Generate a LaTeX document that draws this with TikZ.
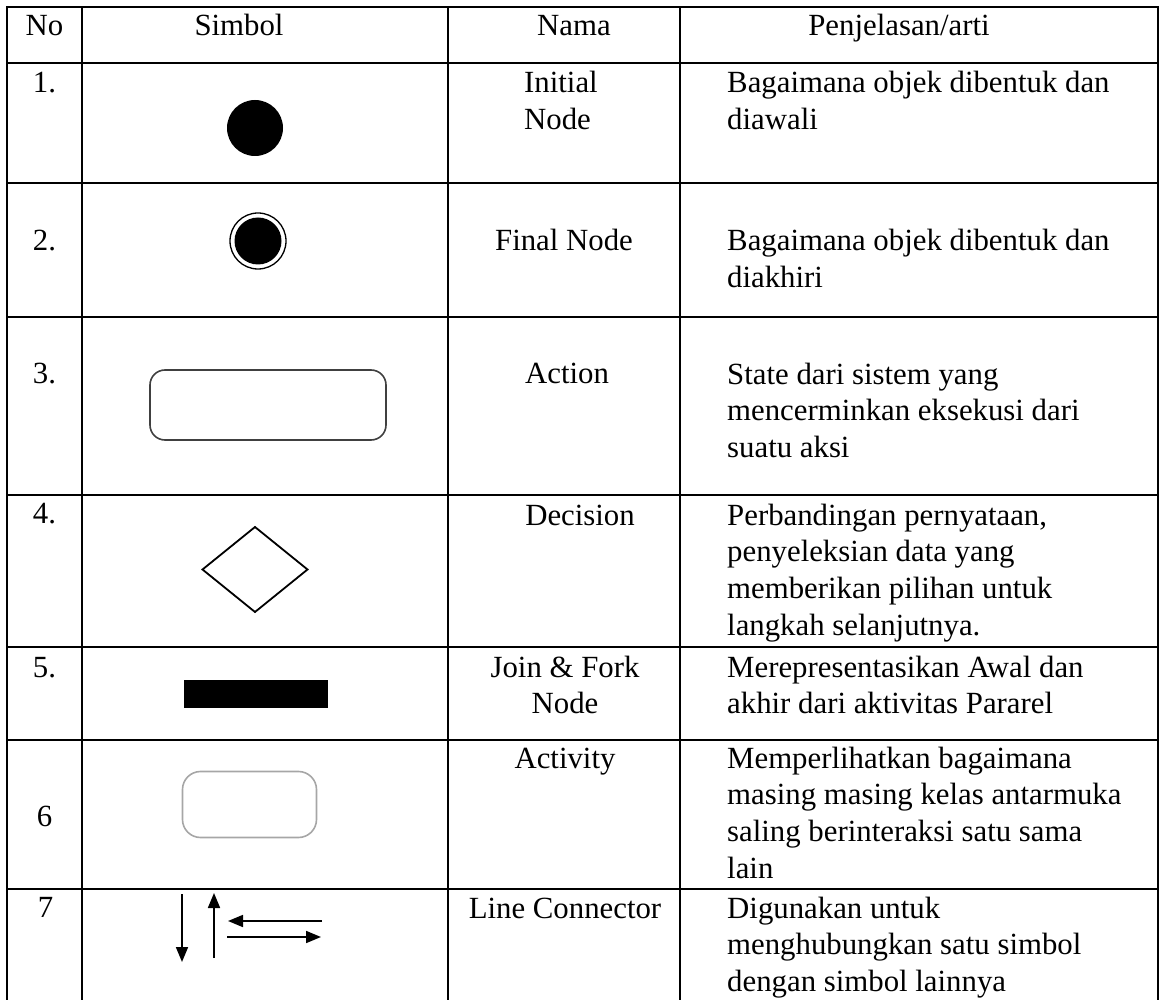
\documentclass[tikz,border=0pt]{standalone}
\usepackage{fontspec}
\setmainfont{Liberation Serif}
\usetikzlibrary{arrows.meta,shapes.geometric}
\tikzset{
  tablerule/.style={line width=2.6pt, line cap=rect},
  cell/.style={anchor=base, inner sep=0pt, font=\fontsize{30.8}{36.7}\selectfont},
  lcell/.style={cell, anchor=base west, align=left},
  symb/.style={inner sep=0pt, outer sep=0pt},
  conn/.style={line width=1.7pt, -{Triangle[length=15pt,width=12pt]}},
}
\begin{document}
\begin{tikzpicture}[x=1pt,y=-1pt]
      \useasboundingbox (0,0) rectangle (1160,1000);
      % table rules
      \foreach \y in {7,63,183,317,495,647,740,889}
        \draw[tablerule] (7,\y) -- (1158,\y);
      \foreach \x in {7,82,448,680,1158}
        \draw[tablerule] (\x,7) -- (\x,1002);
      % header
      \node[cell] (hno) at (44.5,36) {No};
      \node[cell] (hsym) at (239,36) {Simbol};
      \node[cell] (hname) at (574,36) {Nama};
      \node[cell] (hdesc) at (899,36) {Penjelasan/arti};
      % numbers
      \node[cell] (no1) at (44.5,93) {1.};
      \node[cell] (no2) at (44.5,251) {2.};
      \node[cell] (no3) at (44.5,384) {3.};
      \node[cell] (no4) at (44.5,523) {4.};
      \node[cell] (no5) at (44.5,677) {5.};
      \node[cell] (no6) at (44.5,826) {6};
      \node[cell] (no7) at (45.5,917) {7};
      % symbols
      \node[symb, circle, fill, minimum size=56pt] (initial) at (255,128) {};
      \node[symb, circle, draw, line width=1.3pt, minimum size=56pt] (final) at (258,241) {};
      \node[symb, circle, fill, minimum size=47pt] (finaldot) at (final) {};
      \node[symb, draw=black!75, line width=1.6pt, rounded corners=15pt,
        minimum width=236pt, minimum height=70pt] (action) at (268,405) {};
      \node[symb, diamond, draw, line width=1.8pt,
        minimum width=105pt, minimum height=85pt] (decision) at (255,569.5) {};
      \node[symb, fill, minimum width=144pt, minimum height=28pt] (bar) at (256,694) {};
      \node[symb, draw=black!35, line width=1.6pt, rounded corners=18pt,
        minimum width=134pt, minimum height=66pt] (activity) at (249.5,804.5) {};
      \coordinate (dn1) at (182,894);
      \coordinate (dn2) at (182,962);
      \coordinate (up1) at (214,958);
      \coordinate (up2) at (214,893);
      \coordinate (lf1) at (322,921);
      \coordinate (lf2) at (228,921);
      \coordinate (rt1) at (227,937);
      \coordinate (rt2) at (321,937);
      \draw[conn] (dn1) -- (dn2);
      \draw[conn] (up1) -- (up2);
      \draw[conn] (lf1) -- (lf2);
      \draw[conn] (rt1) -- (rt2);
      % names (multi-line cells sit on their last baseline)
      \node[lcell] (nm1) at (524,129.7) {Initial\\Node};
      \node[cell] (nm2) at (564,251) {Final Node};
      \node[cell] (nm3) at (567,384) {Action};
      \node[cell] (nm4) at (580,525) {Decision};
      \node[cell, align=center] (nm5) at (565,713.7) {Join \& Fork\\Node};
      \node[cell] (nm6) at (565,768) {Activity};
      \node[cell] (nm7) at (565,918) {Line Connector};
      % descriptions
      \node[lcell] (ds1) at (727,129.7) {Bagaimana objek dibentuk dan\\diawali};
      \node[lcell] (ds2) at (727,287.7) {Bagaimana objek dibentuk dan\\diakhiri};
      \node[lcell] (ds3) at (727,457.4) {State dari sistem yang\\mencerminkan eksekusi dari\\suatu aksi};
      \node[lcell] (ds4) at (727,635.1) {Perbandingan pernyataan,\\penyeleksian data yang\\memberikan pilihan untuk\\langkah selanjutnya.};
      \node[lcell] (ds5) at (727,713.7) {Merepresentasikan Awal dan\\akhir dari aktivitas Pararel};
      \node[lcell] (ds6) at (727,878.1) {Memperlihatkan bagaimana\\masing masing kelas antarmuka\\saling berinteraksi satu sama\\lain};
      \node[lcell] (ds7) at (727,991.4) {Digunakan untuk\\menghubungkan satu simbol\\dengan simbol lainnya};
    \end{tikzpicture}
\end{document}
